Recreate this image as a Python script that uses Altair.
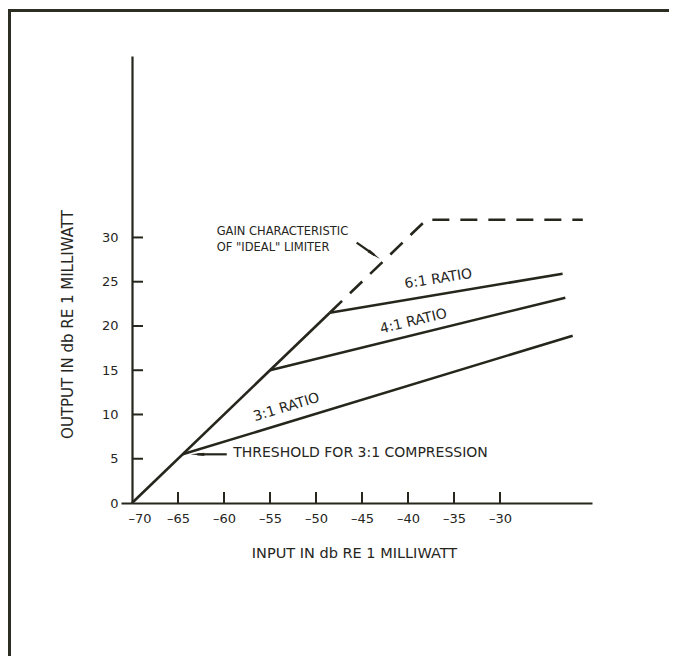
import altair as alt
import pandas as pd

INK = "#26261d"
FONT = "DejaVu Sans"

# ---- data (input dB, output dB) ----
gain_x = [-70, -48.5]
gain_y = [0, 21.5]
limiter_x = [-48.5, -38, -21]
limiter_y = [21.5, 32, 32]
r6_x = [-48.5, -23.2]
r6_y = [21.5, 25.9]
r4_x = [-55, -22.9]
r4_y = [15, 23.2]
r3_x = [-64.5, -22.1]
r3_y = [5.5, 18.9]

x_ticks = [-70, -65, -60, -55, -50, -45, -40, -35, -30]
y_ticks = [0, 5, 10, 15, 20, 25, 30]

ratio_labels = ["6:1 RATIO", "4:1 RATIO", "3:1 RATIO"]
ratio_lx = [-36.7, -39.4, -53.2]
ratio_ly = [25.3, 20.5, 10.8]
ratio_ang = [351, 346.5, 343]

gain_text = ["GAIN CHARACTERISTIC", 'OF "IDEAL" LIMITER']
gain_tx = [-60.8, -60.8]
gain_ty = [30.6, 28.8]

thr_text = ["THRESHOLD FOR 3:1 COMPRESSION"]
thr_tx = [-59.0]
thr_ty = [5.65]

# arrows: shaft start, head centre, head angle
arrow_x0 = [-59.7, -45.58]
arrow_y0 = [5.5, 29.41]
arrow_x1 = [-62.9, -43.66]
arrow_y1 = [5.5, 28.02]
arrow_ang = [180, 35]

W, H = 460, 447
xs = alt.Scale(domain=[-70, -20], nice=False, zero=False)
ys = alt.Scale(domain=[0, 50.5], nice=False, zero=False)

XAX = alt.Axis(
    values=x_ticks, grid=False, ticks=False,
    domainColor=INK, domainWidth=2.2,
    labelFont=FONT, labelFontSize=13, labelColor=INK, labelPadding=9,
    labelFlush=True, labelFlushOffset=4,
    labelExpr="'\u2013' + abs(datum.value)",
    title="INPUT IN db RE 1 MILLIWATT", titleFont=FONT, titleFontSize=14.5,
    titleFontWeight="normal", titleColor=INK,
    titleX=222, titleY=50, titleBaseline="middle", titleAlign="center",
)
YAX = alt.Axis(
    values=y_ticks, grid=False, ticks=True, tickSize=11, tickWidth=2,
    tickColor=INK, tickOpacity=alt.ExprRef("datum.value == 0 ? 1 : 0"),
    domainColor=INK, domainWidth=2.2,
    labelFont=FONT, labelFontSize=13, labelColor=INK, labelPadding=3,
    title="OUTPUT IN db RE 1 MILLIWATT", titleFont=FONT, titleFontSize=15,
    titleFontWeight="normal", titleColor=INK,
    titleX=-65, titleY=268, titleAngle=270, titleBaseline="middle",
    titleAlign="center",
)


def X(field):
    return alt.X(field, type="quantitative", scale=xs, axis=XAX)


def Y(field):
    return alt.Y(field, type="quantitative", scale=ys, axis=YAX)


def line_df(xv, yv):
    return pd.DataFrame({"x": xv, "y": yv, "o": list(range(len(xv)))})


def plain_line(xv, yv, dash=None):
    kw = dict(color=INK, strokeWidth=2.6)
    if dash:
        kw["strokeDash"] = dash
    return alt.Chart(line_df(xv, yv)).mark_line(**kw).encode(
        x=X("x"), y=Y("y"), order="o:Q",
    )


gain = plain_line(gain_x, gain_y)
limiter = plain_line(limiter_x, limiter_y, dash=[17, 11])
r6 = plain_line(r6_x, r6_y)
r4 = plain_line(r4_x, r4_y)
r3 = plain_line(r3_x, r3_y)

# inward axis ticks
yt = alt.Chart(pd.DataFrame({"v": y_ticks[1:]})).mark_rule(
    color=INK, strokeWidth=2
).encode(y=Y("v"), x=alt.value(0), x2=alt.value(11))
xt = alt.Chart(pd.DataFrame({"v": x_ticks[1:]})).mark_rule(
    color=INK, strokeWidth=2
).encode(x=X("v"), y=alt.value(H), y2=alt.value(H - 11))

# ratio labels
ratio_df = pd.DataFrame({"t": ratio_labels, "x": ratio_lx, "y": ratio_ly})
ratio_layers = []
for i in range(len(ratio_labels)):
    ratio_layers.append(
        alt.Chart(ratio_df.iloc[[i]]).mark_text(
            font=FONT, fontSize=14, color=INK, angle=ratio_ang[i],
            align="center", baseline="middle",
        ).encode(x=X("x"), y=Y("y"), text="t:N")
    )

gain_lbl = alt.Chart(pd.DataFrame({"t": gain_text, "x": gain_tx,
                                   "y": gain_ty})).mark_text(
    font=FONT, fontSize=11.5, color=INK, align="left", baseline="middle"
).encode(x=X("x"), y=Y("y"), text="t:N")

thr_lbl = alt.Chart(pd.DataFrame({"t": thr_text, "x": thr_tx,
                                  "y": thr_ty})).mark_text(
    font=FONT, fontSize=14, color=INK, align="left", baseline="middle"
).encode(x=X("x"), y=Y("y"), text="t:N")

arr_df = pd.DataFrame({"x0": arrow_x0, "y0": arrow_y0, "x1": arrow_x1,
                       "y1": arrow_y1, "a": arrow_ang})
shafts = alt.Chart(arr_df).mark_rule(color=INK, strokeWidth=2.2).encode(
    x=X("x0"), y=Y("y0"), x2="x1:Q", y2="y1:Q",
)
heads = alt.Chart(arr_df).mark_point(
    shape="M1,0L-1,-0.24L-1,0.24Z", filled=True, color=INK, opacity=1,
    size=196, strokeWidth=0,
).encode(x=X("x1"), y=Y("y1"), angle=alt.Angle("a:Q", scale=None))

# page frame (decoration)
frame_top = alt.Chart(pd.DataFrame({"k": [0]})).mark_rule(
    color="#2c2e24", strokeWidth=3
).encode(x=alt.value(-124), x2=alt.value(537), y=alt.value(-45.5))
frame_left = alt.Chart(pd.DataFrame({"k": [0]})).mark_rule(
    color="#2c2e24", strokeWidth=3
).encode(x=alt.value(-122.5), y=alt.value(-47), y2=alt.value(600))

chart = alt.layer(
    gain, limiter, r6, r4, r3, yt, xt, *ratio_layers, gain_lbl, thr_lbl,
    shafts, heads, frame_top, frame_left,
).properties(
    width=W, height=H,
    padding={"left": 124, "top": 48, "right": 77, "bottom": 153},
    autosize=alt.AutoSizeParams(type="none"),
    background="white",
).configure_view(stroke=None)

chart.save("out.html", embed_options={"renderer": "svg", "actions": False})
